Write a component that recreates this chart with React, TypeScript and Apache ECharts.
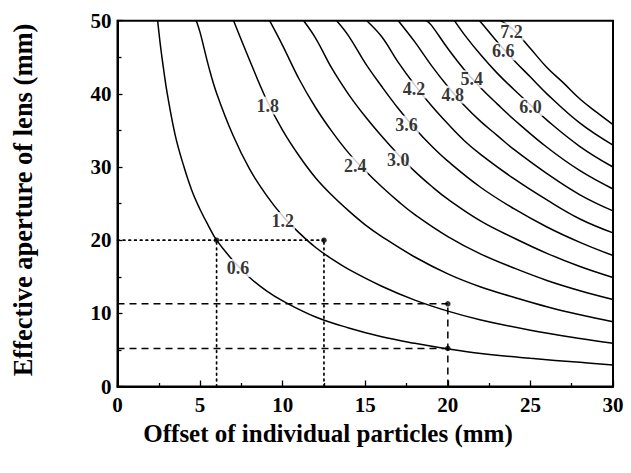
import React, { useEffect, useRef } from "react";
import * as echarts from "echarts";

// x ticks every 5 mm (0..30), y ticks every 10 mm (0..50)
const xTicks = [0, 5, 10, 15, 20, 25, 30];
const yTicks = [0, 10, 20, 30, 40, 50];

const contourLevels = ["0.6", "1.2", "1.8", "2.4", "3.0", "3.6", "4.2", "4.8", "5.4", "6.0", "6.6", "7.2"];

// contour lines: [offset x (mm), aperture y (mm)]
const curve06 = [[2.43, 50], [2.6, 46.6], [2.8, 43.2], [3.0, 40.2], [3.5, 34.3], [4, 30.2], [4.5, 26.8], [5, 24.2], [5.5, 22.0], [6, 20.0], [7, 17.2], [8, 14.9], [9, 13.1], [10, 11.7], [12, 9.5], [14, 8.0], [16, 6.8], [18, 5.9], [20, 5.13], [22, 4.5], [25, 3.85], [28, 3.3], [30, 2.95]];
const curve12 = [[4.77, 50], [5, 48.4], [5.5, 43.9], [6, 40.1], [7, 34.3], [8, 29.7], [9, 26.2], [10, 23.3], [11, 21.0], [12, 19.0], [13, 17.4], [14, 16.0], [16, 13.7], [18, 11.8], [20, 10.3], [22, 9.1], [25, 7.7], [28, 6.55], [30, 5.9]];
const curve18 = [[7.03, 50], [8, 44.6], [9, 39.3], [10, 35.0], [11, 31.5], [12, 28.5], [13, 26.1], [14, 24.0], [15, 22.1], [16, 20.5], [18, 17.7], [20, 15.4], [22, 13.6], [24, 12.2], [26, 10.9], [28, 9.8], [30, 8.85]];
const curve24 = [[9.21, 50], [10, 46.6], [11, 42.0], [12, 38.1], [13, 34.8], [14, 31.9], [15, 29.5], [16, 27.3], [17, 25.3], [18, 23.5], [20, 20.5], [22, 18.1], [24, 16.2], [26, 14.5], [28, 13.1], [30, 11.9]];
const curve30 = [[11.27, 50], [12, 47.6], [13, 43.4], [14, 39.9], [15, 36.9], [16, 34.2], [17, 31.7], [18, 29.4], [19, 27.4], [20, 25.6], [22, 22.6], [24, 20.3], [26, 18.2], [28, 16.4], [30, 14.9]];
const curve36 = [[13.27, 50], [14, 47.9], [15, 44.2], [16, 41.0], [17, 38.0], [18, 35.3], [19, 32.9], [20, 30.8], [22, 27.2], [24, 24.3], [26, 21.8], [28, 19.7], [30, 17.9]];
const curve42 = [[15.09, 50], [16, 47.8], [17, 44.3], [18, 41.2], [19, 38.4], [20, 35.9], [21, 33.6], [22, 31.7], [24, 28.4], [26, 25.5], [28, 22.9], [30, 21.0]];
const curve48 = [[17.0, 50], [18, 47.1], [19, 43.9], [20, 41.0], [21, 38.4], [22, 36.2], [23, 34.3], [24, 32.4], [26, 29.1], [28, 26.2], [30, 24.0]];
const curve54 = [[18.7, 50], [19, 49.4], [20, 46.2], [21, 43.3], [22, 40.8], [23, 38.6], [24, 36.5], [26, 32.7], [28, 29.5], [30, 27.0]];
const curve60 = [[20.4, 50], [21, 48.1], [22, 45.3], [23, 42.8], [24, 40.6], [25, 38.5], [26, 36.4], [28, 32.8], [30, 30.0]];
const curve66 = [[21.9, 50], [22, 49.8], [23, 47.1], [24, 44.6], [25, 42.3], [26, 40.0], [28, 36.0], [30, 33.0]];
const curve72 = [[23.2, 50], [24, 48.7], [25, 46.2], [26, 43.6], [27, 41.5], [28, 39.3], [29, 37.5], [30, 35.8]];

const curves = [curve06, curve12, curve18, curve24, curve30, curve36, curve42, curve48, curve54, curve60, curve66, curve72];

// where each contour value is written on its line
const labelAnchors = [[7.3, 16.2], [10.0, 22.6], [9.1, 38.4], [14.4, 30.2], [17.0, 31.0], [17.5, 35.8], [17.95, 40.6], [20.3, 39.9], [21.45, 42.0], [25.0, 38.2], [23.35, 45.8], [23.85, 48.5]];

// guide lines
const dottedLines = [
  [[0, 20], [12.5, 20]],
  [[6, 0], [6, 20]],
  [[12.5, 0], [12.5, 20]],
];
const dashedLines = [
  [[0, 11.3], [20, 11.3]],
  [[0, 5.2], [20, 5.2]],
  [[20, 0], [20, 11.3]],
];
const guideDots = [[6, 20], [12.5, 20], [20, 11.3], [20, 5.2]];

const xTitle = "Offset of individual particles (mm)";
const yTitle = "Effective aperture of lens (mm)";

const FONT = "'Liberation Serif', 'Times New Roman', serif";

export default function App() {
  const ref = useRef<HTMLDivElement>(null);
  useEffect(() => {
    document.body.style.margin = "0";
    if (!ref.current) return;
    const chart = echarts.init(ref.current, undefined, { renderer: "svg" });

    const series: any[] = [];
    curves.forEach((c, i) => {
      series.push({
        type: "line",
        name: contourLevels[i],
        data: c,
        smooth: 0.4,
        symbol: "none",
        clip: true,
        lineStyle: { color: "#000", width: 1.5 },
        z: 3,
      });
    });
    dottedLines.forEach((l) => {
      series.push({
        type: "line",
        data: l,
        symbol: "none",
        lineStyle: { color: "#000", width: 1.7, type: [1.7, 4], cap: "round" },
        z: 2,
      });
    });
    dashedLines.forEach((l) => {
      series.push({
        type: "line",
        data: l,
        symbol: "none",
        lineStyle: { color: "#000", width: 1.5, type: [7, 5] },
        z: 2,
      });
    });
    series.push({
      type: "scatter",
      data: guideDots,
      symbol: "circle",
      symbolSize: 5.5,
      itemStyle: { color: "#000" },
      z: 5,
    });
    series.push({
      type: "scatter",
      data: labelAnchors.map((p, i) => [p[0], p[1], contourLevels[i]]),
      symbolSize: 1,
      itemStyle: { color: "rgba(0,0,0,0)" },
      label: {
        show: true,
        position: "inside",
        formatter: (p: any) => p.value[2],
        fontFamily: FONT,
        fontWeight: "bold",
        fontSize: 18,
        color: "#000",
        backgroundColor: "#fff",
        padding: [0, 1, 0, 1],
      },
      z: 6,
    });

    chart.setOption({
      animation: false,
      backgroundColor: "#fff",
      grid: {
        left: 117.5,
        top: 20.7,
        right: 18,
        bottom: 86.5,
        show: true,
        borderColor: "#000",
        borderWidth: 2,
        containLabel: false,
      },
      xAxis: {
        type: "value",
        min: xTicks[0],
        max: xTicks[xTicks.length - 1],
        interval: 5,
        axisLine: { show: true, lineStyle: { color: "#000", width: 2 } },
        axisTick: { show: true, inside: true, length: 6, lineStyle: { color: "#000", width: 1.3 } },
        minorTick: { show: true, splitNumber: 2, length: 3.5, lineStyle: { color: "#000", width: 1.3 } },
        splitLine: { show: false },
        axisLabel: { color: "#000", fontFamily: FONT, fontWeight: "bold", fontSize: 21, margin: 8 },
      },
      yAxis: {
        type: "value",
        min: yTicks[0],
        max: yTicks[yTicks.length - 1],
        interval: 10,
        axisLine: { show: true, lineStyle: { color: "#000", width: 2 } },
        axisTick: { show: true, inside: true, length: 5, lineStyle: { color: "#000", width: 1.3 } },
        minorTick: { show: true, splitNumber: 2, length: 4, lineStyle: { color: "#000", width: 1.3 } },
        splitLine: { show: false },
        axisLabel: { color: "#000", fontFamily: FONT, fontWeight: "bold", fontSize: 21, margin: 6 },
      },
      graphic: [
        {
          type: "text",
          x: 328,
          y: 433,
          style: {
            text: xTitle,
            fontFamily: FONT,
            fontWeight: "bold",
            fontSize: 25,
            fill: "#000",
            align: "center",
            verticalAlign: "middle",
          },
        },
        {
          type: "text",
          x: 23,
          y: 200,
          rotation: Math.PI / 2,
          style: {
            text: yTitle,
            fontFamily: FONT,
            fontWeight: "bold",
            fontSize: 26.5,
            fill: "#000",
            align: "center",
            verticalAlign: "middle",
          },
        },
      ],
      series,
    });
    return () => chart.dispose();
  }, []);
  return <div ref={ref} style={{ position: "fixed", left: 0, top: 0, width: 631, height: 473 }} />;
}
